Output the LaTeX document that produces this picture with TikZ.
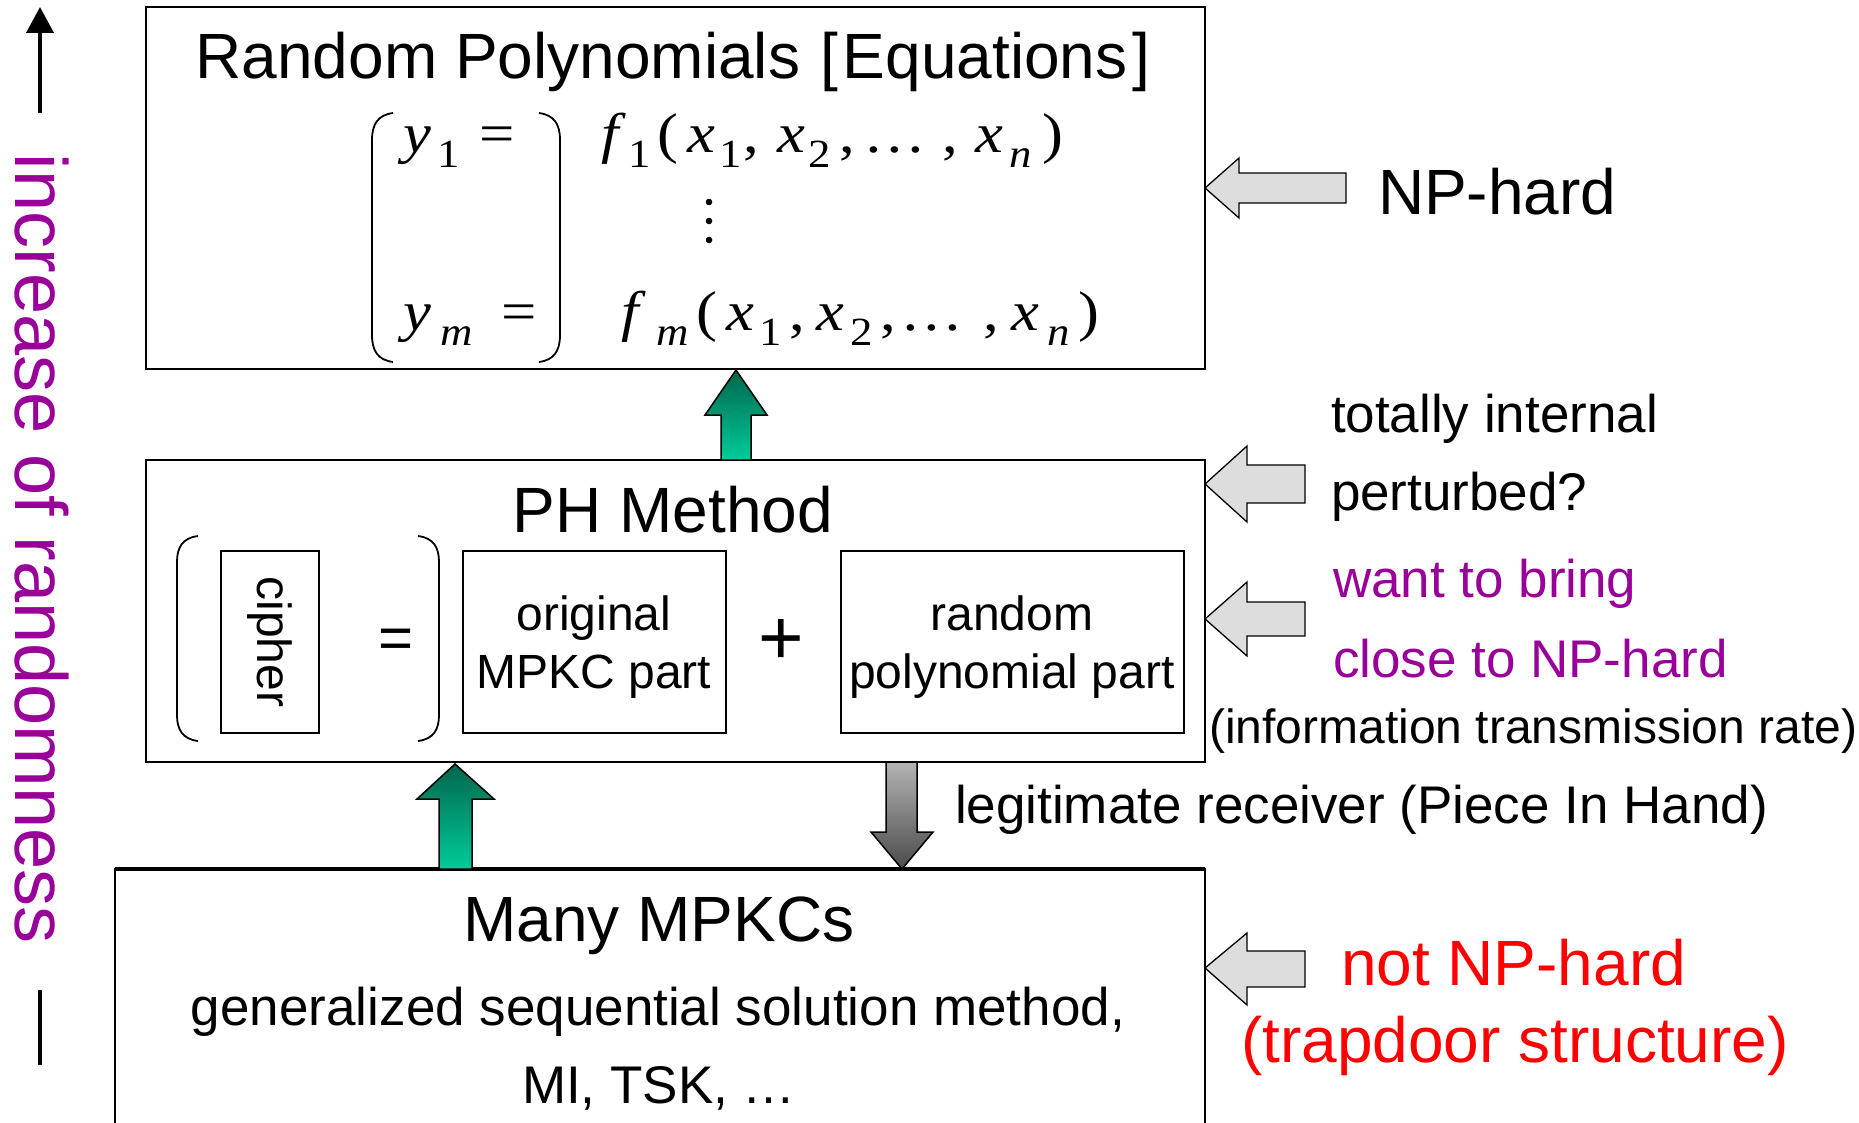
\documentclass[tikz,border=0pt]{standalone}
\usepackage{fontspec}
\usepackage{graphicx}
\setmainfont{Liberation Sans}
\newfontfamily\serifit{Liberation Serif}
\usetikzlibrary{arrows.meta}
\definecolor{rndpurple}{RGB}{153,0,153}
\definecolor{gtop}{RGB}{0,102,77}
\definecolor{gbot}{RGB}{0,204,153}
\definecolor{ktop}{RGB}{180,180,180}
\definecolor{kbot}{RGB}{75,75,75}
\definecolor{lgray}{RGB}{221,221,221}
\newcommand{\fs}[1]{\fontsize{#1pt}{#1pt}\selectfont}
\newcommand{\putat}[2]{\makebox[0pt][l]{\hspace{#1pt}\scalebox{1.12}[1]{#2}}}
\newcommand{\mysb}[2]{\makebox[0pt][l]{\hspace{#1pt}\raisebox{-15pt}{\fs{40}\scalebox{1.12}[1]{#2}}}}
\begin{document}
\begin{tikzpicture}[x=1pt,y=-1pt,
  bigbox/.style={draw=black, line width=2.5pt, inner sep=0pt, outer sep=0pt, anchor=north west},
  smallbox/.style={draw=black, line width=2pt, inner sep=0pt, outer sep=0pt, anchor=north west},
  txt/.style={inner sep=0pt, outer sep=0pt, anchor=base west},
  ctxt/.style={inner sep=0pt, outer sep=0pt, anchor=base},
  paren/.style={draw=black, line width=1.8pt},
  larrowstyle/.style={draw=black, line width=1.3pt, fill=lgray, line join=miter},
  greenarrow/.style={draw=black, line width=1.5pt, top color=gtop, bottom color=gbot, line join=miter},
  grayarrow/.style={draw=black, line width=1.5pt, top color=ktop, bottom color=kbot, line join=miter}
]
\useasboundingbox (0,0) rectangle (1859,1123);

% ---------- boxes ----------
\node[bigbox, minimum width=1059pt, minimum height=362pt] (rp) at (146,7) {};
\node[bigbox, minimum width=1059pt, minimum height=302pt] (ph) at (146,460) {};
\node[bigbox, line width=1.2pt, minimum width=1090pt, minimum height=290pt] (mp) at (115,869) {};
\draw[line width=3.5pt] (mp.north west) -- (mp.north east);

% ---------- top box ----------
\node[ctxt, font=\fs{64}] (rpt) at (673,79) {Random Polynomials\hspace{20pt}[\hspace{5pt}Equations\hspace{5pt}]};
\draw[paren] (393,113) .. controls (378,115) and (372,124) .. (372,140) -- (372,335) .. controls (372,351) and (378,360) .. (393,362);
\draw[paren] (539,113) .. controls (554,115) and (560,124) .. (560,140) -- (560,335) .. controls (560,351) and (554,360) .. (539,362);
\node[txt, font=\serifit\fs{56}] (y1) at (403,153) {\putat{0}{\textit{y}}\mysb{34}{1}\putat{76}{=}};
\node[txt, font=\serifit\fs{56}] (ym) at (403,330) {\putat{0}{\textit{y}}\mysb{37}{\textit{m}}\putat{98}{=}};
\node[txt, font=\serifit\fs{56}] (f1) at (601,153) {\putat{0}{\textit{f}}\mysb{27}{1}\putat{56}{(}\putat{86}{\textit{x}}\mysb{118}{1}\putat{142}{,}\putat{176}{\textit{x}}\mysb{207}{2}\putat{238}{,}\putat{262}{…}\putat{341}{,}\putat{374}{\textit{x}}\mysb{408}{\textit{n}}\putat{441}{)}};
\node[txt, font=\serifit\fs{56}] (fm) at (621,330) {\putat{0}{\textit{f}}\mysb{35}{\textit{m}}\putat{75}{(}\putat{105}{\textit{x}}\mysb{138}{1}\putat{168}{,}\putat{195}{\textit{x}}\mysb{229}{2}\putat{259}{,}\putat{279}{…}\putat{362}{,}\putat{390}{\textit{x}}\mysb{426}{\textit{n}}\putat{457}{)}};
\fill (709,202) circle (3.3);
\fill (709,221) circle (3.3);
\fill (709,240) circle (3.3);

% ---------- PH box ----------
\node[ctxt, font=\fs{64}] (pht) at (673,532) {PH Method};
\draw[paren] (198,536) .. controls (182,538) and (177,548) .. (177,562) -- (177,715) .. controls (177,729) and (182,739) .. (198,741);
\draw[paren] (418,536) .. controls (434,538) and (439,548) .. (439,562) -- (439,715) .. controls (439,729) and (434,739) .. (418,741);
\node[smallbox, minimum width=98pt, minimum height=182pt] (ciph) at (221,551) {};
\node[inner sep=0pt, rotate=-90, font=\fs{48}] (cipht) at (ciph.center) {cipher};
\node[inner sep=0pt, font=\fs{60}] (eq) at (396,644) {=};
\node[smallbox, minimum width=263pt, minimum height=182pt] (orig) at (463,551) {};
\node[ctxt, font=\fs{48}] (orig1) at (594,630) {original};
\node[ctxt, font=\fs{48}] (orig2) at (594,688) {MPKC part};
\node[inner sep=0pt, font=\fs{78}] (plus) at (781,642) {+};
\node[smallbox, minimum width=343pt, minimum height=182pt] (rand) at (841,551) {};
\node[ctxt, font=\fs{48}] (rand1) at (1012,630) {random};
\node[ctxt, font=\fs{48}] (rand2) at (1012,688) {polynomial part};

% ---------- bottom box ----------
\node[ctxt, font=\fs{64}] (mpt) at (659,941) {Many MPKCs};
\node[ctxt, font=\fs{53}] (mp1) at (658,1025) {generalized sequential solution method,};
\node[ctxt, font=\fs{53}] (mp2) at (659,1103) {MI, TSK, …};

% ---------- vertical block arrows ----------
\path[greenarrow] (736,370) -- (767,415) -- (751,415) -- (751,460) -- (721,460) -- (721,415) -- (705,415) -- cycle;
\path[greenarrow] (455,764) -- (494,799) -- (472,799) -- (472,869) -- (439,869) -- (439,799) -- (417,799) -- cycle;
\path[grayarrow] (886,762) -- (917,762) -- (917,832) -- (933,832) -- (902,869) -- (871,832) -- (886,832) -- cycle;
\node[txt, font=\fs{53}] (legit) at (955,823) {legitimate receiver (Piece In Hand)};

% ---------- left-pointing arrows ----------
\path[larrowstyle] (1205,188) -- (1239,158) -- (1239,173) -- (1346,173) -- (1346,203) -- (1239,203) -- (1239,218) -- cycle;
\path[larrowstyle] (1205,484) -- (1247,446) -- (1247,465) -- (1305,465) -- (1305,503) -- (1247,503) -- (1247,522) -- cycle;
\path[larrowstyle] (1205,619) -- (1247,582) -- (1247,602) -- (1305,602) -- (1305,636) -- (1247,636) -- (1247,656) -- cycle;
\path[larrowstyle] (1205,968) -- (1247,933) -- (1247,951) -- (1305,951) -- (1305,987) -- (1247,987) -- (1247,1005) -- cycle;

\node[txt, font=\fs{64}] (nph) at (1378,215) {NP-hard};
\node[txt, font=\fs{53}] (tot) at (1331,432) {totally internal};
\node[txt, font=\fs{53}] (pert) at (1331,510) {perturbed?};
\node[txt, font=\fs{53}, text=rndpurple] (want) at (1333,597) {want to bring};
\node[txt, font=\fs{53}, text=rndpurple] (close) at (1333,677) {close to NP-hard};
\node[txt, font=\fs{48}] (info) at (1209,743) {(information transmission rate)};
\node[txt, font=\fs{64}, text=red] (notnp) at (1341,985) {not NP-hard};
\node[txt, font=\fs{64}, text=red] (trap) at (1241,1062) {(trapdoor structure)};

% ---------- left axis ----------
\coordinate (axbot) at (40,113);
\coordinate (axtop) at (40,7);
\draw[line width=4pt, -{Triangle[width=27pt,length=26pt]}] (axbot) -- (axtop);
\coordinate (tl1) at (40,990);
\coordinate (tl2) at (40,1065);
\draw[line width=4pt] (tl1) -- (tl2);
\node[txt, rotate=-90, font=\fs{74}, text=rndpurple] (incr) at (16,154) {increase of randomness};
\end{tikzpicture}
\end{document}
